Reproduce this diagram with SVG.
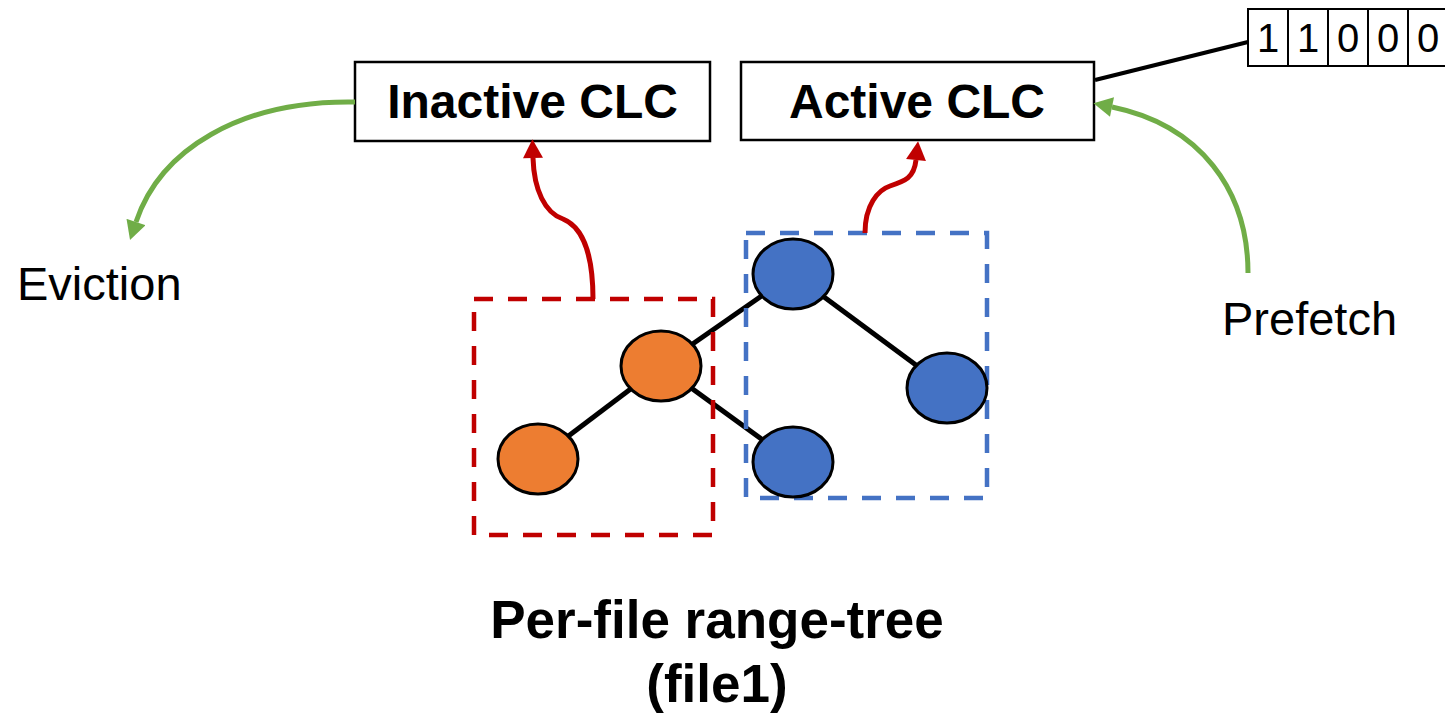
<svg xmlns="http://www.w3.org/2000/svg" width="1445" height="714" viewBox="0 0 1445 714">
<style>
.box{fill:#fff;stroke:#000;stroke-width:2.5}
.lbl{font-family:"Liberation Sans",Arial,sans-serif;font-weight:bold;font-size:48px;fill:#000;text-anchor:middle}
.plain{font-family:"Liberation Sans",Arial,sans-serif;font-size:47px;fill:#000}
.bit{fill:#fff;stroke:#000;stroke-width:2}
.bitt{font-family:"Liberation Sans",Arial,sans-serif;font-size:40px;fill:#000;text-anchor:middle}
.edge{stroke:#000;stroke-width:5;fill:none}
.orange{fill:#ED7D31;stroke:#000;stroke-width:3}
.blue{fill:#4472C4;stroke:#000;stroke-width:3}
.green{stroke:#70AD47;stroke-width:5;fill:none}
.red{stroke:#C00000;stroke-width:5;fill:none}
.title{font-family:"Liberation Sans",Arial,sans-serif;font-weight:bold;font-size:53px;fill:#000;text-anchor:middle}
</style>
<defs>
<marker id="ag" markerUnits="userSpaceOnUse" markerWidth="20" markerHeight="20" refX="0" refY="9" orient="auto" viewBox="0 0 17 18">
<path d="M0,0 L17,9 L0,18 Z" fill="#70AD47"/>
</marker>
<marker id="ar" markerUnits="userSpaceOnUse" markerWidth="20" markerHeight="20" refX="0" refY="8.5" orient="auto" viewBox="0 0 16 17">
<path d="M0,0 L16,8.5 L0,17 Z" fill="#C00000"/>
</marker>
</defs>

<g id="tree-edges">
<line class="edge" x1="793" y1="274" x2="661" y2="366"/>
<line class="edge" x1="793" y1="274" x2="947" y2="388"/>
<line class="edge" x1="661" y1="366" x2="538" y2="459"/>
<line class="edge" x1="661" y1="366" x2="793" y2="462"/>
</g>

<g id="active-region">
<rect x="746" y="233" width="241" height="265" fill="none" stroke="#4472C4" stroke-width="4.5" stroke-dasharray="19 15"/>
</g>

<g id="node-top"><ellipse class="blue" cx="793" cy="274" rx="40" ry="35"/></g>
<g id="node-right"><ellipse class="blue" cx="947" cy="388" rx="40" ry="35"/></g>
<g id="node-bottom-blue"><ellipse class="blue" cx="793" cy="462" rx="40" ry="35"/></g>
<g id="node-mid"><ellipse class="orange" cx="661" cy="366" rx="40" ry="35"/></g>
<g id="node-left"><ellipse class="orange" cx="538" cy="459" rx="40" ry="35"/></g>

<g id="inactive-region">
<rect x="474" y="299" width="239" height="236" fill="none" stroke="#C00000" stroke-width="4.5" stroke-dasharray="19 15"/>
</g>

<g id="inactive-clc">
<rect class="box" x="355" y="62" width="355" height="79"/>
<text class="lbl" x="532.5" y="118">Inactive CLC</text>
</g>

<g id="active-clc">
<rect class="box" x="741" y="62" width="353" height="78"/>
<text class="lbl" x="917" y="118">Active CLC</text>
</g>

<g id="bitmap">
<rect class="bit" x="1248" y="9" width="40" height="57"/>
<rect class="bit" x="1288" y="9" width="40" height="57"/>
<rect class="bit" x="1328" y="9" width="40" height="57"/>
<rect class="bit" x="1368" y="9" width="40" height="57"/>
<rect class="bit" x="1408" y="9" width="40" height="57"/>
<text class="bitt" x="1268" y="52">1</text>
<text class="bitt" x="1308" y="52">1</text>
<text class="bitt" x="1348" y="52">0</text>
<text class="bitt" x="1388" y="52">0</text>
<text class="bitt" x="1428" y="52">0</text>
</g>

<g id="eviction"><text class="plain" x="17" y="300">Eviction</text></g>
<g id="prefetch"><text class="plain" x="1222" y="335">Prefetch</text></g>

<g id="title">
<text class="title" x="717" y="638">Per-file range-tree</text>
<text class="title" x="717" y="702">(file1)</text>
</g>

<g id="connectors">
<line x1="1095" y1="80" x2="1248" y2="42" stroke="#000" stroke-width="4"/>
<path class="green" d="M355,102 C240,100 160,150 136,222" marker-end="url(#ag)"/>
<path class="green" d="M1248,273 C1248,190 1200,125 1112,107" marker-end="url(#ag)"/>
<path class="red" d="M593,299 C593,245 578,225 563,219 C545,213 534,190 533,158" marker-end="url(#ar)"/>
<path class="red" d="M865,233 C865,205 878,190 890,186 C905,181 914,178 916,160" marker-end="url(#ar)"/>
</g>
</svg>
